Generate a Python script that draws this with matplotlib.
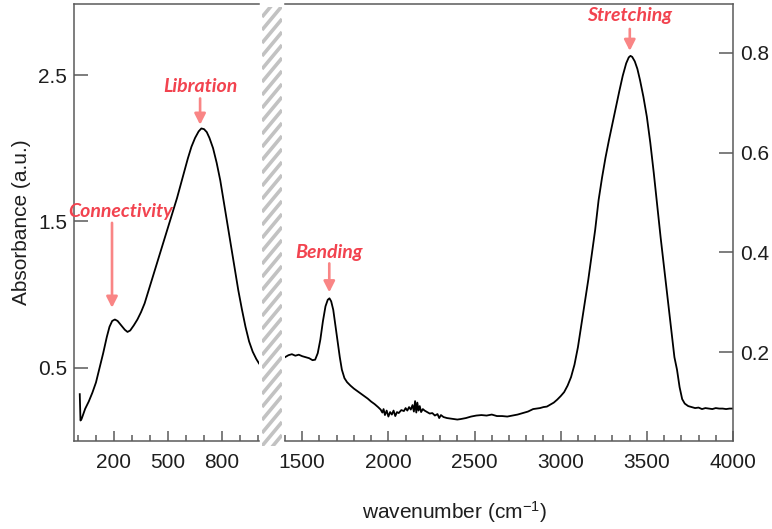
import numpy as np
import matplotlib
matplotlib.use("Agg")
import matplotlib.pyplot as plt

plt.rcParams['font.family'] = ['Liberation Sans', 'DejaVu Sans']
plt.rcParams['mathtext.default'] = 'regular'

# low wavenumber region (left axis)
low_wn = [10, 14, 20, 40, 60, 80, 100, 120, 140, 160, 175, 190, 205, 220, 240,
          260, 275, 290, 310, 330, 350, 370, 390, 410, 430, 450, 470, 490, 510,
          530, 550, 570, 590, 610, 630, 650, 670, 685, 700, 715, 730, 750, 770,
          790, 810, 830, 850, 870, 890, 910, 930, 950, 970, 990, 1005]
low_abs = [0.32, 0.14, 0.15, 0.22, 0.27, 0.33, 0.40, 0.50, 0.60, 0.71, 0.78,
           0.82, 0.83, 0.82, 0.79, 0.76, 0.745, 0.755, 0.79, 0.83, 0.88, 0.94,
           1.02, 1.10, 1.18, 1.26, 1.34, 1.42, 1.50, 1.58, 1.66, 1.75, 1.84,
           1.93, 2.01, 2.07, 2.115, 2.135, 2.13, 2.11, 2.07, 2.00, 1.90, 1.78,
           1.63, 1.48, 1.33, 1.18, 1.03, 0.90, 0.78, 0.68, 0.61, 0.56, 0.53]

# high wavenumber region (right axis)
high_wn = [1400, 1420, 1440, 1460, 1480, 1500, 1520, 1540, 1560, 1575, 1590,
           1605, 1620, 1635, 1648, 1658, 1668, 1680, 1692, 1705, 1718, 1730,
           1745, 1760, 1780, 1800, 1820, 1840, 1860, 1880, 1900, 1920, 1940,
           1955, 1965, 1972, 1980, 1990, 2000, 2010, 2020, 2030, 2040, 2050,
           2060, 2075, 2090, 2100, 2110, 2120, 2130, 2140, 2148, 2155, 2162,
           2168, 2175, 2182, 2190, 2200, 2210, 2225, 2240, 2255, 2270, 2285,
           2295, 2305, 2320, 2340, 2360, 2380, 2400, 2420, 2450, 2480, 2510,
           2540, 2570, 2600, 2630, 2660, 2690, 2720, 2750, 2780, 2810, 2840,
           2860, 2880, 2900, 2920, 2940, 2960, 2980, 3000, 3020, 3040, 3060,
           3080, 3100, 3120, 3140, 3160, 3180, 3200, 3220, 3240, 3260, 3280,
           3300, 3320, 3340, 3360, 3380, 3395, 3405, 3415, 3430, 3445, 3460,
           3480, 3500, 3520, 3540, 3560, 3580, 3600, 3620, 3640, 3660, 3675,
           3690, 3705, 3720, 3740, 3760, 3780, 3800, 3820, 3840, 3860, 3880,
           3900, 3920, 3940, 3960, 3980, 4000]
high_abs = [0.190, 0.194, 0.196, 0.193, 0.195, 0.192, 0.190, 0.188, 0.184,
            0.185, 0.198, 0.225, 0.262, 0.292, 0.305, 0.308, 0.302, 0.285,
            0.255, 0.222, 0.190, 0.165, 0.148, 0.140, 0.133, 0.127, 0.122,
            0.117, 0.112, 0.107, 0.101, 0.096, 0.090, 0.085, 0.079, 0.086,
            0.074, 0.083, 0.071, 0.080, 0.075, 0.083, 0.072, 0.080, 0.078,
            0.084, 0.082, 0.088, 0.083, 0.090, 0.085, 0.094, 0.081, 0.102,
            0.079, 0.099, 0.083, 0.092, 0.080, 0.086, 0.083, 0.080, 0.077,
            0.078, 0.073, 0.076, 0.068, 0.074, 0.070, 0.068, 0.067, 0.066,
            0.065, 0.066, 0.068, 0.071, 0.073, 0.074, 0.073, 0.075, 0.072,
            0.072, 0.071, 0.073, 0.075, 0.078, 0.081, 0.086, 0.087, 0.088,
            0.090, 0.091, 0.095, 0.099, 0.105, 0.112, 0.120, 0.133, 0.150,
            0.175, 0.210, 0.255, 0.300, 0.345, 0.395, 0.445, 0.505, 0.550,
            0.590, 0.625, 0.658, 0.690, 0.723, 0.754, 0.779, 0.791, 0.794,
            0.792, 0.783, 0.768, 0.746, 0.712, 0.672, 0.620, 0.560, 0.495,
            0.430, 0.370, 0.310, 0.250, 0.190, 0.165, 0.130, 0.106, 0.097,
            0.092, 0.090, 0.088, 0.089, 0.086, 0.088, 0.087, 0.086, 0.088,
            0.087, 0.087, 0.086, 0.087, 0.087]

# band labels: (text, arrow x, arrow tail y, arrow tip y, text y, text x)
low_bands = [("Connectivity", 189, 1.49, 0.91, 1.565, 239),
             ("Libration", 678, 2.34, 2.16, 2.42, 678)]
high_bands = [("Bending", 1657, 0.378, 0.32, 0.40, 1657),
              ("Stretching", 3401, 0.848, 0.804, 0.874, 3401)]

W, H = 772, 529
fig = plt.figure(figsize=(W / 100, H / 100), dpi=100)
ax1 = fig.add_axes([74 / W, 1 - 441 / H, 185 / W, 437 / H])
ax2 = fig.add_axes([285 / W, 1 - 441 / H, 448 / W, 437 / H])

spine_col = '#5a5a5a'
lab_col = '#f2434f'
arr_col = '#f98585'

ax1.plot(low_wn, low_abs, color='black', lw=1.3)
ax2.plot(high_wn, high_abs, color='black', lw=1.3)

ax1.set_xlim(-22, 1005)
ax1.set_ylim(0.0, 2.985)
ax2.set_xlim(1400, 4000)
ax2.set_ylim(0.022, 0.898)

for ax in (ax1, ax2):
    for s in ax.spines.values():
        s.set_color(spine_col)
        s.set_linewidth(1.1)
    ax.tick_params(which='both', colors=spine_col, labelcolor='#1e1e1e',
                   labelsize=15, width=1.1, direction='in')
    ax.tick_params(axis='x', which='major', length=7, pad=8.5)
    ax.tick_params(axis='x', which='minor', length=4)
    ax.tick_params(axis='y', length=10, pad=5)

ax1.spines['right'].set_visible(False)
ax1.set_xticks([200, 500, 800])
ax1.set_xticks(np.arange(0, 1001, 100), minor=True)
ax1.set_yticks([0.5, 1.5, 2.5])
ax1.set_ylabel('Absorbance (a.u.)', fontsize=15, color='#1e1e1e')
ax1.yaxis.set_label_coords(-0.23, 0.5)

ax2.spines['left'].set_visible(False)
ax2.set_xticks(np.arange(1500, 4001, 500))
ax2.set_xticks(np.arange(1400, 4001, 100), minor=True)
ax2.set_yticks([0.2, 0.4, 0.6, 0.8])
ax2.yaxis.tick_right()
ax2.tick_params(axis='y', left=False, right=True)

fig.text(455 / W, 1 - 512 / H, 'wavenumber (cm$^{-1}$)', fontsize=15,
         ha='center', va='center', color='#1e1e1e')

# arrows and band names
for ax, bands in ((ax1, low_bands), (ax2, high_bands)):
    for name, x, y0, y1, ty, tx in bands:
        ax.annotate('', xy=(x, y1), xytext=(x, y0),
                    arrowprops=dict(arrowstyle='-|>,head_length=0.65,head_width=0.33',
                                    color=arr_col, lw=1.9, shrinkA=0, shrinkB=0))
        ax.text(tx, ty, name, color=lab_col, fontsize=14, fontweight='bold',
                fontstyle='italic', family=['Lato', 'DejaVu Sans'],
                ha='center', va='center')

# hatched break between the two ranges
gap = fig.add_axes([262 / W, 1 - 446 / H, 20 / W, 439 / H])
gap.set_xlim(0, 20)
gap.set_ylim(0, 439)
gap.axis('off')
for k in range(-3, 40):
    y0 = k * 13.0
    gap.plot([0, 20], [y0, y0 + 20 * 1.2], color='#c2c2c2', lw=2.6,
             solid_capstyle='butt', clip_on=True)

fig.savefig('out.png', dpi=100)
